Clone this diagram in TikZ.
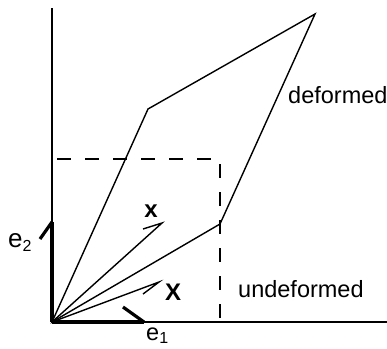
\documentclass[tikz,border=0pt]{standalone}
\usepackage{fontspec}
\setmainfont{Liberation Sans}
\begin{document}
\begin{tikzpicture}[x=1pt,y=-1pt,
  thinline/.style={line width=1.4pt, line join=miter},
  axisline/.style={line width=1.6pt},
  dashline/.style={line width=1.6pt, dash pattern=on 14pt off 14pt},
  basisvec/.style={line width=4pt, line join=miter},
  lbl/.style={inner sep=0pt, font=\fontsize{23.5}{24}\selectfont},
  vlbl/.style={inner sep=0pt, font=\fontsize{24}{24}\selectfont\bfseries}]
\useasboundingbox (0,0) rectangle (387,348);
% points
\coordinate (O) at (52,322);
\coordinate (ytop) at (52,8);
\coordinate (xend) at (387,322);
\coordinate (A) at (148,109);
\coordinate (B) at (315,14);
\coordinate (C) at (220,224);
\coordinate (sqTL) at (52,159);
\coordinate (sqTR) at (220,159);
\coordinate (sqBR) at (220,322);
\coordinate (xt) at (162,223);
\coordinate (xb) at (143,229);
\coordinate (Xt) at (159,282);
\coordinate (Xb) at (143,294);
\coordinate (e1t) at (144,322);
\coordinate (e1b) at (123,307);
\coordinate (e2t) at (52,222);
\coordinate (e2b) at (40,239);
% axes
\draw[axisline] (ytop) -- (O) -- (xend);
% undeformed square
\draw[dashline] (O) -- (sqTL) -- (sqTR) -- (sqBR);
% deformed
\draw[thinline] (O) -- (A) -- (B) -- (C) -- cycle;
% vectors
\draw[thinline] (O) -- (xt) -- (xb);
\draw[thinline] (O) -- (Xt) -- (Xb);
% basis
\draw[basisvec] (O) -- (e1t);
\draw[line width=3.2pt] (e1t) -- (e1b);
\draw[basisvec] (O) -- (e2t);
\draw[line width=3.2pt] (e2t) -- (e2b);
% labels
\node[lbl, anchor=base west] (ldef) at (288,103) {deformed};
\node[lbl, anchor=base west] (lundef) at (238,297) {undeformed};
\node[vlbl, anchor=base] (lx) at (151,217) {x};
\node[vlbl, anchor=base] (lX) at (173,300) {X};
\node[lbl, anchor=base west] (le2) at (8,247) {\fontsize{26}{26}\selectfont e\raisebox{-4pt}{\fontsize{16}{16}\selectfont 2}};
\node[lbl, anchor=base west] (le1) at (146,340) {e\raisebox{-3.5pt}{\fontsize{16}{16}\selectfont 1}};
\end{tikzpicture}
\end{document}
